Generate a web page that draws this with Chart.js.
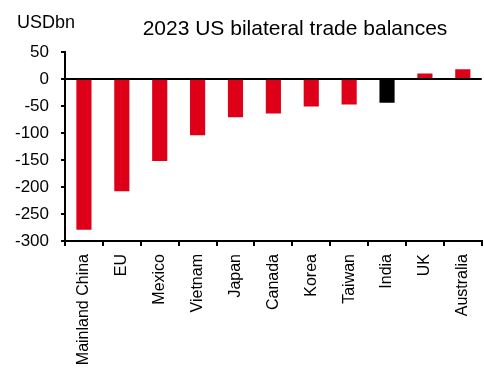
<!DOCTYPE html>
<html>
<head>
<meta charset="utf-8">
<script src="https://cdn.jsdelivr.net/npm/chart.js@4.4.1/dist/chart.umd.min.js"></script>
<style>
  html, body { margin: 0; padding: 0; overflow: hidden; background: #fff; }
  canvas { display: block; }
</style>
</head>
<body>
<canvas id="myChart" width="490" height="376"></canvas>
<script>
let countries = ['Mainland China', 'EU', 'Mexico', 'Vietnam', 'Japan', 'Canada', 'Korea', 'Taiwan', 'India', 'UK', 'Australia'];
let balances = [-279, -208, -152, -104, -71, -64, -51, -47, -44, 10, 18];
let yTicks = [50, 0, -50, -100, -150, -200, -250, -300];
let title = '2023 US bilateral trade balances';
let unit = 'USDbn';

let red = '#DE0019';
let colors = countries.map(c => c === 'India' ? '#000000' : red);

Chart.defaults.font.family = '"Liberation Sans", Arial, sans-serif';
Chart.defaults.color = '#000';

// title and unit label sit above the plot, drawn straight on the canvas
let headings = {
  id: 'headings',
  afterDraw(chart) {
    let c = chart.ctx;
    c.save();
    c.fillStyle = '#000';
    c.textBaseline = 'alphabetic';
    c.font = '18px "Liberation Sans", Arial, sans-serif';
    c.textAlign = 'left';
    c.fillText(unit, 17, 28);
    c.font = '21px "Liberation Sans", Arial, sans-serif';
    c.textAlign = 'center';
    c.fillText(title, 295, 35);
    c.restore();
  }
};

let ctx = document.getElementById('myChart').getContext('2d');

let myChart = new Chart(ctx, {
  type: 'bar',
  data: {
    labels: countries,
    datasets: [{
      data: balances,
      backgroundColor: colors,
      barPercentage: 0.4,
      categoryPercentage: 1
    }]
  },
  options: {
    responsive: false,
    animation: false,
    layout: { padding: { top: 52, right: 0, left: 0, bottom: 0 } },
    plugins: {
      legend: { display: false },
      tooltip: { enabled: false }
    },
    scales: {
      x: {
        offset: true,
        grid: { offset: true, drawOnChartArea: false, drawTicks: true, tickLength: 5, color: '#000', lineWidth: 2 },
        border: { color: '#000', width: 2 },
        ticks: { minRotation: 90, maxRotation: 90, autoSkip: false, padding: 8, font: { size: 16 }, color: '#000' },
        afterFit(s) { s.height = 135; }
      },
      y: {
        min: -300,
        max: 50,
        z: 1,
        grid: {
          drawOnChartArea: true,
          color: (c) => c.tick && c.tick.value === 0 ? '#000' : 'rgba(0,0,0,0)',
          tickColor: '#000',
          lineWidth: 2,
          tickLength: 4
        },
        border: { color: '#000', width: 2 },
        ticks: { padding: 12, font: { size: 17 }, color: '#000' },
        afterBuildTicks(s) { s.ticks = yTicks.map(v => ({ value: v })); },
        afterFit(s) { s.width = 65; }
      }
    }
  },
  plugins: [headings]
});
</script>
</body>
</html>
